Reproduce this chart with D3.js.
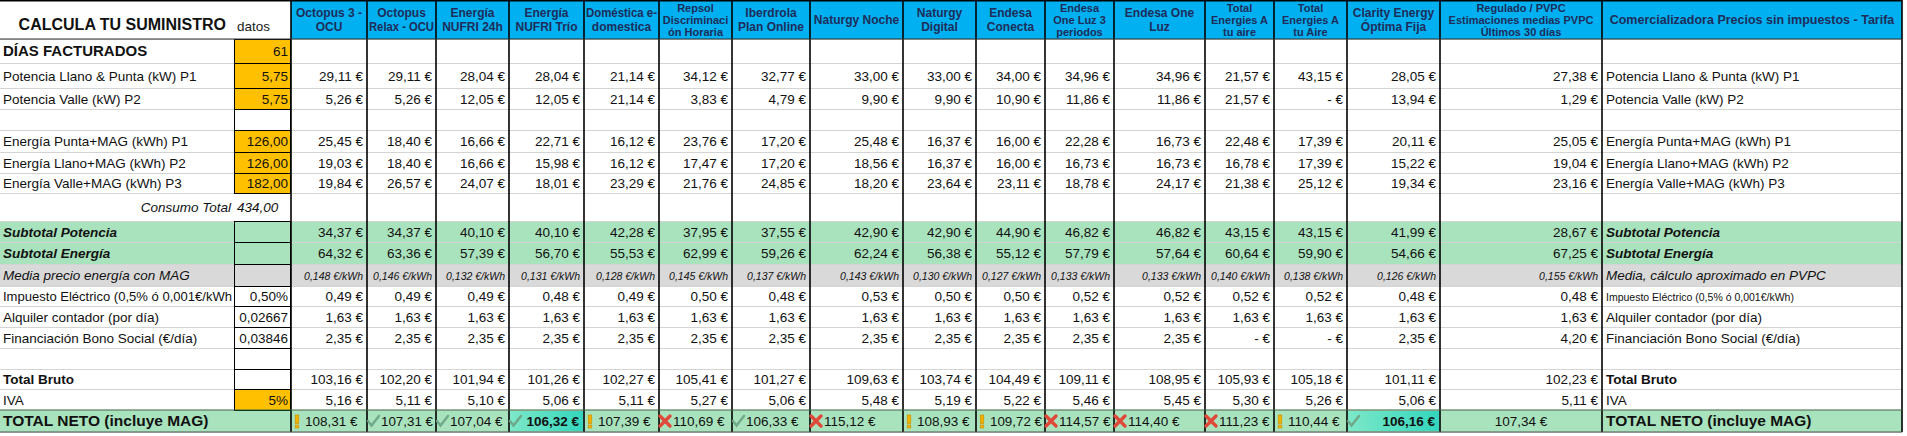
<!DOCTYPE html>
<html><head><meta charset="utf-8">
<script src="https://cdn.jsdelivr.net/npm/d3@7"></script>
<style>body{margin:0;background:#fff}svg{display:block}text{font-family:"Liberation Sans Narrow","Arial Narrow","Liberation Sans",Arial,sans-serif}</style>
</head><body><svg id="c" width="1907" height="436"></svg>
<script>
const providers=["Octopus 3 -|OCU","Octopus|Relax - OCU","Energía|NUFRI 24h","Energía|NUFRI Trío","Doméstica e-|domestica","Repsol|Discriminaci|ón Horaria","Iberdrola|Plan Online","Naturgy Noche","Naturgy|Digital","Endesa|Conecta","Endesa|One Luz 3|periodos","Endesa One|Luz","Total|Energies A|tu aire","Total|Energies A|tu Aire","Clarity Energy|Óptima Fija","Regulado / PVPC|Estimaciones medias  PVPC|Últimos 30 días"];
const rowLabels=["DÍAS FACTURADOS","Potencia Llano & Punta (kW) P1","Potencia Valle (kW) P2","","Energía Punta+MAG (kWh) P1","Energía Llano+MAG (kWh) P2","Energía Valle+MAG (kWh) P3","Consumo Total","Subtotal Potencia","Subtotal Energía","Media precio energía con MAG","Impuesto Eléctrico (0,5% ó 0,001€/kWh","Alquiler contador (por día)","Financiación Bono Social (€/día)","","Total Bruto","IVA","TOTAL NETO (incluye MAG)"];
const rightLabels=["","Potencia Llano & Punta (kW) P1","Potencia Valle (kW) P2","","Energía Punta+MAG (kWh) P1","Energía Llano+MAG (kWh) P2","Energía Valle+MAG (kWh) P3","","Subtotal Potencia","Subtotal Energía","Media, cálculo aproximado en PVPC","Impuesto Eléctrico (0,5% ó 0,001€/kWh)","Alquiler contador (por día)","Financiación Bono Social (€/día)","","Total Bruto","IVA","TOTAL NETO (incluye MAG)"];
const datos=["61","5,75","5,75","","126,00","126,00","182,00","434,00","","","","0,50%","0,02667","0,03846","","","5%",""];
const potP1=[29.11,29.11,28.04,28.04,21.14,34.12,32.77,33.00,33.00,34.00,34.96,34.96,21.57,43.15,28.05,27.38];
const potP2=[5.26,5.26,12.05,12.05,21.14,3.83,4.79,9.90,9.90,10.90,11.86,11.86,21.57,null,13.94,1.29];
const enP1=[25.45,18.40,16.66,22.71,16.12,23.76,17.20,25.48,16.37,16.00,22.28,16.73,22.48,17.39,20.11,25.05];
const enP2=[19.03,18.40,16.66,15.98,16.12,17.47,17.20,18.56,16.37,16.00,16.73,16.73,16.78,17.39,15.22,19.04];
const enP3=[19.84,26.57,24.07,18.01,23.29,21.76,24.85,18.20,23.64,23.11,18.78,24.17,21.38,25.12,19.34,23.16];
const subPot=[34.37,34.37,40.10,40.10,42.28,37.95,37.55,42.90,42.90,44.90,46.82,46.82,43.15,43.15,41.99,28.67];
const subEn=[64.32,63.36,57.39,56.70,55.53,62.99,59.26,62.24,56.38,55.12,57.79,57.64,60.64,59.90,54.66,67.25];
const media=[0.148,0.146,0.132,0.131,0.128,0.145,0.137,0.143,0.130,0.127,0.133,0.133,0.140,0.138,0.126,0.155];
const impuesto=[0.49,0.49,0.49,0.48,0.49,0.50,0.48,0.53,0.50,0.50,0.52,0.52,0.52,0.52,0.48,0.48];
const alquiler=[1.63,1.63,1.63,1.63,1.63,1.63,1.63,1.63,1.63,1.63,1.63,1.63,1.63,1.63,1.63,1.63];
const bono=[2.35,2.35,2.35,2.35,2.35,2.35,2.35,2.35,2.35,2.35,2.35,2.35,null,null,2.35,4.20];
const bruto=[103.16,102.20,101.94,101.26,102.27,105.41,101.27,109.63,103.74,104.49,109.11,108.95,105.93,105.18,101.11,102.23];
const iva=[5.16,5.11,5.10,5.06,5.11,5.27,5.06,5.48,5.19,5.22,5.46,5.45,5.30,5.26,5.06,5.11];
const neto=[108.31,107.31,107.04,106.32,107.39,110.69,106.33,115.12,108.93,109.72,114.57,114.40,111.23,110.44,106.16,107.34];
const icons=["warn","ok","ok","best","warn","bad","ok","bad","warn","warn","bad","bad","bad","warn","best",""];

const colEdges=[0,234,291,367,436,509,584,659,732,810,903,976,1045,1114,1205,1274,1347,1440,1602,1902];
const rowEdges=[0,39,63,88,109,130,152,173,193,221,242,264,286,306,327,348,369,389,410,432];
const svg=d3.select("#c");
const yB=d3.scaleOrdinal().domain(d3.range(rowEdges.length)).range(rowEdges);
const xB=d3.scaleOrdinal().domain(d3.range(colEdges.length)).range(colEdges);
const nP=providers.length;
const rowSeries=[null,potP1,potP2,null,enP1,enP2,enP3,null,subPot,subEn,media,impuesto,alquiler,bono,null,bruto,iva,neto];
const loc=d3.formatLocale({decimal:",",thousands:".",grouping:[3]});
const fmt=loc.format(",.2f"), fmt3=loc.format(".3f");
const GREEN="#a9e3bd",GRAY="#d9d9d9",ORANGE="#ffc000",BLUE="#00b0f0";
function fit(t,w){const n=t.node();const l=n.getComputedTextLength();if(l>w){t.attr("textLength",w).attr("lengthAdjust","spacingAndGlyphs");}return t;}

const bg={8:GREEN,9:GREEN,10:GRAY,17:GREEN};
Object.entries(bg).forEach(([r,c])=>{r=+r;
  svg.append("rect").attr("x",0).attr("y",yB(r+1)).attr("width",1902).attr("height",yB(r+2)-yB(r+1)).attr("fill",c);});
svg.append("rect").attr("x",xB(2)).attr("y",0).attr("width",1902-xB(2)).attr("height",yB(1)).attr("fill",BLUE);
rowEdges.slice(1).forEach(y=>svg.append("line").attr("x1",0).attr("x2",1902).attr("y1",y+0.5).attr("y2",y+0.5).attr("stroke","#d4d4d4"));
rowLabels.forEach((l,r)=>{
  const y0=yB(r+1),y1=yB(r+2);
  if([0,1,2,4,5,6,16].includes(r)) svg.append("rect").attr("x",xB(1)).attr("y",y0).attr("width",xB(2)-xB(1)).attr("height",y1-y0).attr("fill",ORANGE);
  if(r!==7&&r!==17) svg.append("rect").attr("x",xB(1)+0.5).attr("y",y0+0.5).attr("width",xB(2)-xB(1)-1).attr("height",y1-y0).attr("fill","none").attr("stroke","#000").attr("stroke-width",1);
});
icons.forEach((ic,i)=>{ if(ic==="best"){
  const g=svg.append("defs").append("linearGradient").attr("id","gb"+i);
  g.append("stop").attr("offset","0").attr("stop-color","#7de8c8");g.append("stop").attr("offset","1").attr("stop-color","#33d6bd");
  svg.append("rect").attr("x",xB(i+2)+1).attr("y",yB(18)+1).attr("width",xB(i+3)-xB(i+2)-2).attr("height",yB(19)-yB(18)-2).attr("fill","url(#gb"+i+")");}});
colEdges.slice(2).forEach(x=>svg.append("line").attr("x1",x).attr("x2",x).attr("y1",0).attr("y2",432).attr("stroke","#000").attr("stroke-width",1.6));
svg.append("line").attr("x1",0).attr("x2",1902).attr("y1",0.8).attr("y2",0.8).attr("stroke","#000").attr("stroke-width",1.6);
svg.append("line").attr("x1",0).attr("x2",1902).attr("y1",yB(1)).attr("y2",yB(1)).attr("stroke","#333").attr("stroke-width",1);
svg.append("line").attr("x1",0).attr("x2",1902).attr("y1",yB(18)).attr("y2",yB(18)).attr("stroke","#2e6b3a").attr("stroke-width",1.2);
svg.append("line").attr("x1",0).attr("x2",1902).attr("y1",yB(19)).attr("y2",yB(19)).attr("stroke","#555").attr("stroke-width",1.2);

svg.append("text").attr("x",226).attr("y",30).attr("text-anchor","end").attr("font-family","Liberation Sans,Arial").attr("font-weight","bold").attr("font-size",16).attr("fill","#111").text("CALCULA TU SUMINISTRO");
svg.append("text").attr("x",237).attr("y",31).attr("font-size",13.5).attr("fill","#222").text("datos");
providers.forEach((p,i)=>{
  const x0=xB(i+2),x1=xB(i+3),lines=p.split("|");
  const lh=lines.length>2?12:14,fs=lines.length>2?11:12;
  const start=yB(1)/2-(lines.length-1)*lh/2+4;
  lines.forEach((l,k)=>{
    const t=svg.append("text").attr("x",(x0+x1)/2).attr("y",start+k*lh).attr("text-anchor","middle").attr("font-weight","bold").attr("font-size",fs).attr("fill","#1f2d5a").text(l);
    fit(t,x1-x0-4);
  });
});
svg.append("text").attr("x",(xB(18)+xB(19))/2).attr("y",24).attr("text-anchor","middle").attr("font-weight","bold").attr("font-size",12.5).attr("fill","#1f2d5a").text("Comercializadora Precios sin impuestos - Tarifa");

rowLabels.forEach((l,r)=>{
  const y=(yB(r+1)+yB(r+2))/2+5;
  const bold=[0,8,9,15,17].includes(r), ital=[7,8,9,10].includes(r);
  const size=r===0||r===17?15:13.5;
  const t=svg.append("text").attr("y",y).attr("font-size",size).attr("fill","#111").attr("font-weight",bold?"bold":null).attr("font-style",ital?"italic":null).text(l);
  if(r===7) t.attr("x",xB(1)-3).attr("text-anchor","end"); else t.attr("x",3);
  if(r===17) t.attr("font-family","Liberation Sans,Arial").attr("font-size",15.5);
  if(r!==7) fit(t,xB(1)-5);
  const d=datos[r];
  if(d) fit(svg.append("text").attr("x",r===7?xB(1)+3:xB(2)-3).attr("y",y).attr("text-anchor",r===7?"start":"end").attr("font-size",13.5).attr("font-style",r===7?"italic":null).attr("fill","#111").text(d),xB(2)-xB(1)-5);
  const rl=rightLabels[r];
  if(rl){const tt=svg.append("text").attr("x",xB(18)+4).attr("y",y).attr("font-size",r===11?10.5:(r===17?15.5:13.5)).attr("fill","#111").attr("font-weight",bold?"bold":null).attr("font-style",(r>=8&&r<=10)?"italic":null).text(rl);
    if(r===17) tt.attr("font-family","Liberation Sans,Arial");}
});

rowSeries.forEach((ser,r)=>{ if(!ser) return;
  const y=(yB(r+1)+yB(r+2))/2+5;
  ser.forEach((v,i)=>{
    const x0=xB(i+2),x1=xB(i+3);
    let s,size=13.5;
    if(r===10){s=fmt3(v)+" €/kWh";size=10.5;}
    else s=v===null?"-    €":fmt(v)+" €";
    const t=svg.append("text").attr("y",y).attr("font-size",size).attr("fill","#111").text(s);
    if(r===10) t.attr("font-style","italic");
    if(r===17){
      const ic=icons[i];
      if(i===nP-1){t.attr("x",(x0+x1)/2).attr("text-anchor","middle");return;}
      if(ic==="best"){t.attr("font-weight","bold").attr("x",x1-5).attr("text-anchor","end");}
      else t.attr("x",x0+14);
      fit(t,x1-x0-17);
      drawIcon(ic,x0+6,y-5);
    } else {t.attr("x",x1-4).attr("text-anchor","end");fit(t,x1-x0-6);}
  });
});
function drawIcon(ic,cx,cy){
  const g=svg.append("g").attr("transform",`translate(${cx},${cy})`);
  if(ic==="warn"){g.append("rect").attr("x",-1.8).attr("y",-6).attr("width",3.6).attr("height",8.5).attr("fill","#f0b400").attr("stroke","#c68a00").attr("stroke-width",0.6);
    g.append("rect").attr("x",-1.8).attr("y",4).attr("width",3.6).attr("height",3).attr("fill","#f0b400").attr("stroke","#c68a00").attr("stroke-width",0.6);}
  else if(ic==="ok"||ic==="best"){g.append("path").attr("d","M-5,0 L-1.5,4.5 L6,-5").attr("fill","none").attr("stroke","#6fa88a").attr("stroke-width",2.4).attr("stroke-linecap","round");}
  else if(ic==="bad"){g.append("path").attr("d","M-5,-5 L5,5 M5,-5 L-5,5").attr("stroke","#e0483a").attr("stroke-width",3.4).attr("stroke-linecap","round");}
}
</script></body></html>
